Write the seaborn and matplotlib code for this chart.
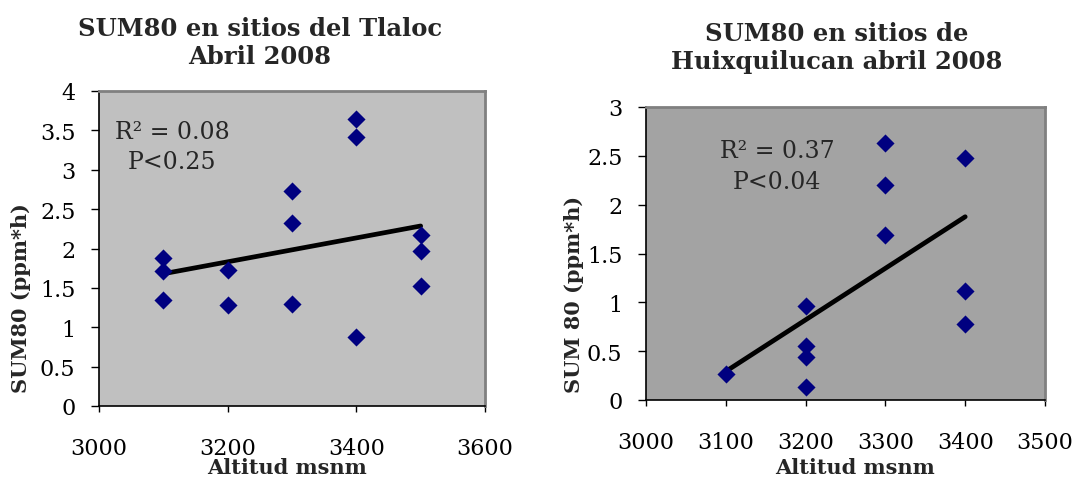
import matplotlib
matplotlib.use("Agg")
import matplotlib.pyplot as plt
import seaborn as sns
import pandas as pd

# --- Data: Tlaloc ---
tlaloc_alt = [3100, 3100, 3100, 3200, 3200, 3300, 3300, 3300,
              3400, 3400, 3400, 3500, 3500, 3500]
tlaloc_sum80 = [1.88, 1.71, 1.35, 1.73, 1.28, 2.73, 2.32, 1.30,
                3.65, 3.42, 0.88, 2.17, 1.97, 1.52]

# --- Data: Huixquilucan ---
huix_alt = [3100, 3200, 3200, 3200, 3200, 3300, 3300, 3300, 3400, 3400, 3400]
huix_sum80 = [0.27, 0.96, 0.55, 0.44, 0.13, 2.63, 2.20, 1.69, 2.48, 1.12, 0.78]

left_title = "SUM80 en sitios del Tlaloc\nAbril 2008"
right_title = "SUM80 en sitios de\nHuixquilucan abril 2008"
left_ylabel = "SUM80 (ppm*h)"
right_ylabel = "SUM 80 (ppm*h)"
xlabel = "Altitud msnm"
left_stats = ["R\u00b2 = 0.08", "P<0.25"]
right_stats = ["R\u00b2 = 0.37", "P<0.04"]
left_xticks = [3000, 3200, 3400, 3600]
left_yticks = [0, 0.5, 1, 1.5, 2, 2.5, 3, 3.5, 4]
right_xticks = [3000, 3100, 3200, 3300, 3400, 3500]
right_yticks = [0, 0.5, 1, 1.5, 2, 2.5, 3]

sns.set_theme(style="white")
plt.rcParams['font.family'] = ['DejaVu Serif']

W, H = 1079, 481
fig = plt.figure(figsize=(W / 100, H / 100), dpi=100)

def px_axes(l, t, r, b):
    return fig.add_axes([l / W, 1 - b / H, (r - l) / W, (b - t) / H])

ax1 = px_axes(99, 92, 485, 407)
ax2 = px_axes(646, 108, 1045, 401)

df1 = pd.DataFrame({"alt": tlaloc_alt, "sum80": tlaloc_sum80})
df2 = pd.DataFrame({"alt": huix_alt, "sum80": huix_sum80})

def draw(ax, df, bg, xticks, yticks, title, tx, ylabel, ylc, xlc, stats, sx, sy, tpad):
    ax.set_facecolor(bg)
    sns.regplot(data=df, x="alt", y="sum80", ax=ax, ci=None, marker="D",
                scatter_kws=dict(color="#000080", s=85, linewidths=0, alpha=1,
                                 zorder=3),
                line_kws=dict(color="black", lw=3.4, zorder=2))
    ax.set_xlim(xticks[0], xticks[-1])
    ax.set_ylim(yticks[0], yticks[-1])
    ax.set_xticks(xticks)
    ax.set_yticks(yticks)
    ax.set_yticklabels([f"{v:g}" for v in yticks])
    ax.tick_params(axis="both", labelsize=16, colors="black", direction="out")
    ax.tick_params(axis="x", length=4, width=1, pad=18)
    ax.tick_params(axis="y", length=6, width=1, pad=11)
    ax.xaxis.set_ticks_position("bottom")
    ax.yaxis.set_ticks_position("left")
    for s in ["top", "right"]:
        ax.spines[s].set_color("#808080")
        ax.spines[s].set_linewidth(2)
    for s in ["left", "bottom"]:
        ax.spines[s].set_color("black")
        ax.spines[s].set_linewidth(1.2)
    ax.set_xlabel(xlabel, fontsize=15, fontweight="bold")
    ax.set_ylabel(ylabel, fontsize=15, fontweight="bold")
    ax.xaxis.set_label_coords(*xlc)
    ax.yaxis.set_label_coords(*ylc)
    ax.set_title(title, fontsize=17.5, fontweight="bold", x=tx, pad=tpad,
                 linespacing=1.2)
    ax.text(sx, sy[0], stats[0], transform=ax.transAxes, ha="center",
            va="center", fontsize=17)
    ax.text(sx, sy[1], stats[1], transform=ax.transAxes, ha="center",
            va="center", fontsize=17)

draw(ax1, df1, "#C0C0C0", left_xticks, left_yticks, left_title, 0.417,
     left_ylabel, (-0.176, 0.346), (0.487, -0.163), left_stats, 0.19,
     (0.873, 0.775), 20)
draw(ax2, df2, "#A3A3A3", right_xticks, right_yticks, right_title, 0.479,
     right_ylabel, (-0.155, 0.365), (0.524, -0.196), right_stats, 0.328,
     (0.85, 0.747), 28)

fig.savefig("out.png", dpi=100, facecolor="white")
